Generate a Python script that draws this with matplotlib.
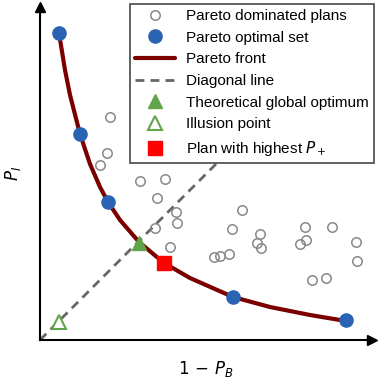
import matplotlib
matplotlib.use("Agg")
import matplotlib.pyplot as plt
import numpy as np

plt.rcParams['font.family'] = ['Liberation Sans', 'DejaVu Sans']
plt.rcParams['mathtext.fontset'] = 'dejavusans'

# dominated plans (1-P_B, P_I)
dom_x = [0.70, 0.67, 0.60, 1.00, 1.25, 1.17, 1.36, 1.37, 1.15, 1.30,
         2.02, 1.92, 2.20, 2.17, 2.21, 1.89, 1.80, 1.74,
         2.65, 2.66, 2.60, 2.92, 3.16, 3.17, 2.72, 2.86]
dom_y = [2.23, 1.87, 1.75, 1.59, 1.61, 1.42, 1.28, 1.17, 1.12, 0.93,
         1.30, 1.11, 1.06, 0.97, 0.92, 0.86, 0.84, 0.83,
         1.13, 1.00, 0.96, 1.13, 0.98, 0.79, 0.60, 0.62]

# pareto optimal set
opt_x = [0.19, 0.40, 0.68, 1.93, 3.06]
opt_y = [3.07, 2.06, 1.38, 0.43, 0.20]

# pareto front
front_x = [0.19, 0.25, 0.30, 0.40, 0.50, 0.60, 0.68, 0.80, 0.99, 1.24,
           1.50, 1.93, 2.30, 2.70, 3.06]
front_y = [3.07, 2.70, 2.45, 2.06, 1.76, 1.53, 1.38, 1.20, 0.98, 0.77,
           0.62, 0.43, 0.33, 0.25, 0.19]

diag = [0.0, 3.0]
global_opt = (0.99, 0.97)
illusion = (0.19, 0.18)
best_plus = (1.24, 0.77)

fig = plt.figure(figsize=(3.8, 3.79), dpi=100)
ax = fig.add_axes([40/380, 39/379, 332/380, 333/379])

ax.plot(dom_x, dom_y, 'o', ms=6.8, mfc='none', mec='#888888', mew=1.1,
        label='Pareto dominated plans', zorder=3)
ax.plot(front_x, front_y, '-', color='#7a0000', lw=3, solid_capstyle='round',
        label='Pareto front', zorder=2)
ax.plot(opt_x, opt_y, 'o', ms=9.5, color='#2a63b4', label='Pareto optimal set', zorder=4)
ax.plot(diag, diag, '--', color='#666666', lw=2, dashes=(3.2, 2.2),
        label='Diagonal line', zorder=1)
ax.plot(*global_opt, '^', ms=10, color='#62a448', label='Theoretical global optimum', zorder=5)
ax.plot(*illusion, '^', ms=10, mfc='white', mec='#62a448', mew=1.5,
        label='Illusion point', zorder=5)
ax.plot(*best_plus, 's', ms=9.5, color='#ff0000', label='Plan with highest $P_+$', zorder=5)

ax.set_xlim(0, 3.32)
ax.set_ylim(0, 3.33)
ax.set_xticks([])
ax.set_yticks([])
ax.spines['top'].set_visible(False)
ax.spines['right'].set_visible(False)
ax.spines['left'].set_linewidth(1.5)
ax.spines['bottom'].set_linewidth(1.5)
ax.plot(1, 0, '>k', ms=7, transform=ax.transAxes, clip_on=False)
ax.plot(0, 1, '^k', ms=7, transform=ax.transAxes, clip_on=False)

ax.set_xlabel(r'$1\,-\,P_B$', fontsize=12, labelpad=14)
ax.set_ylabel('$P_I$', fontsize=12, labelpad=12)

h, l = ax.get_legend_handles_labels()
order = [0, 2, 1, 3, 4, 5, 6]
leg = ax.legend([h[i] for i in order], [l[i] for i in order], loc='upper right',
                fontsize=11, fancybox=False, framealpha=1, edgecolor='#555555',
                borderaxespad=0, handlelength=2.6, labelspacing=0.5,
                borderpad=0.35, handletextpad=0.7,
                bbox_to_anchor=(1.005, 1.01))
leg.get_frame().set_linewidth(1.3)
leg.set_zorder(10)

fig.savefig('out.png', dpi=100)
